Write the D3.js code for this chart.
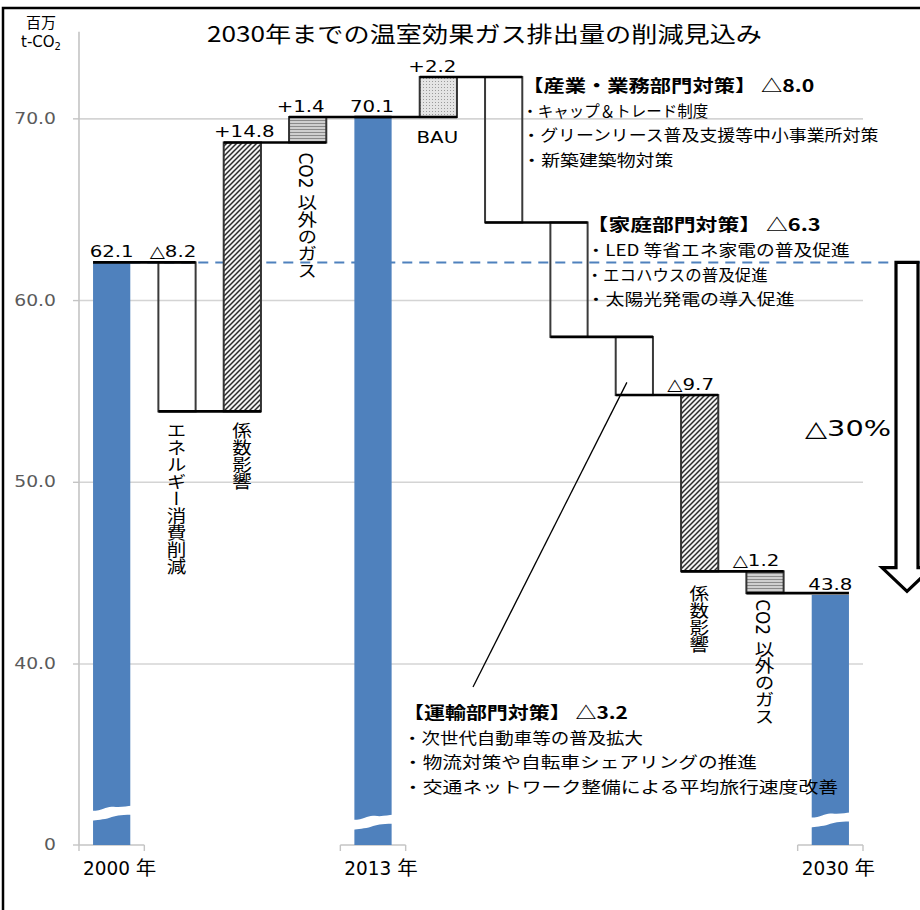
<!DOCTYPE html>
<html><head><meta charset="utf-8">
<script src="https://cdn.jsdelivr.net/npm/d3@7"></script>
<style>body{margin:0;background:#fff}svg{display:block}</style>
</head><body><svg id="chart" width="920" height="910"></svg>
<script>
// ---------- data ----------
const categories = ["2000年","エネルギー消費削減","係数影響","CO2 以外のガス","2013年","BAU","産業・業務部門対策","家庭部門対策","運輸部門対策","係数影響","CO2 以外のガス","2030年"];
const values = [62.1, -8.2, 14.8, 1.4, 70.1, 2.2, -8.0, -6.3, -3.2, -9.7, -1.2, 43.8];
const kinds = ["total","cut","coef","gas","total","bau","cut","cut","cut","coef","gas","total"];
const valueLabels = ["62.1","△8.2","+14.8","+1.4","70.1","+2.2","","","","△9.7","△1.2","43.8"];
const verticalLabels = ["","エネルギー消費削減","係数影響","CO2 以外のガス","","","","","","係数影響","CO2 以外のガス",""];
const yTicks = [0, 40, 50, 60, 70];
const yTickLabels = ["0","40.0","50.0","60.0","70.0"];
const xLabels = ["2000 年","2013 年","2030 年"];
const breakValues = [8, 6, 6.5];
const baseline2000 = 62.1;
const titleText = "2030年までの温室効果ガス排出量の削減見込み";
const industryHeader = "【産業・業務部門対策】 △8.0";
const industryItems = ["・キャップ＆トレード制度","・グリーンリース普及支援等中小事業所対策","・新築建築物対策"];
const householdHeader = "【家庭部門対策】 △6.3";
const householdItems = ["・LED 等省エネ家電の普及促進","・エコハウスの普及促進","・太陽光発電の導入促進"];
const transportHeader = "【運輸部門対策】 △3.2";
const transportItems = ["・次世代自動車等の普及拡大","・物流対策や自転車シェアリングの推進","・交通ネットワーク整備による平均旅行速度改善"];
const reductionText = "△30%";

// ---------- setup ----------
const svg = d3.select("#chart");
const LAT = "'DejaVu Sans','Noto Sans CJK JP',sans-serif";
const CJK = "'Noto Sans CJK JP','DejaVu Sans',sans-serif";
const BLUE = "#4F81BD";

const x = d3.scaleBand().domain(d3.range(categories.length)).range([79, 863]).paddingInner(0.43).paddingOuter(0.215);
const y = d3.scaleLinear().domain([0, 40, 75]).range([845, 664, 28]);
const bw = x.bandwidth();

// compute waterfall
let run = 0;
const bars = values.map((v, i) => {
  let s, e;
  if (kinds[i] === "total") { s = 0; e = v; }
  else { s = run; e = run + v; }
  run = e;
  return {i, v, kind: kinds[i], s, e, lo: Math.min(s, e), hi: Math.max(s, e)};
});

// patterns
const defs = svg.append("defs");
const ph = defs.append("pattern").attr("id","hatch").attr("patternUnits","userSpaceOnUse").attr("width",5).attr("height",5);
ph.append("rect").attr("width",5).attr("height",5).attr("fill","#f4f4f4");
ph.append("path").attr("d","M-1,1 l2,-2 M0,5 l5,-5 M4,6 l2,-2").attr("stroke","#2b2b2b").attr("stroke-width",1.5);
const pg = defs.append("pattern").attr("id","gas").attr("patternUnits","userSpaceOnUse").attr("width",4).attr("height",3);
pg.append("rect").attr("width",4).attr("height",3).attr("fill","#cfcfcf");
pg.append("line").attr("x1",0).attr("x2",4).attr("y1",0.5).attr("y2",0.5).attr("stroke","#8a8a8a").attr("stroke-width",1);
const pb = defs.append("pattern").attr("id","bau").attr("patternUnits","userSpaceOnUse").attr("width",3).attr("height",3);
pb.append("rect").attr("width",3).attr("height",3).attr("fill","#e4e4e4");
pb.append("rect").attr("x",0).attr("y",0).attr("width",1).attr("height",1).attr("fill","#9a9a9a");

// frame
svg.append("path").attr("d","M3,930 L3,8 L930,8").attr("fill","none").attr("stroke","#000").attr("stroke-width",2.5);

// title
svg.append("text").attr("x",207).attr("y",42).attr("font-family",CJK).attr("font-size",22)
  .attr("textLength",555).attr("lengthAdjust","spacingAndGlyphs").text(titleText);

// unit label
const ul = svg.append("g").attr("font-family",LAT).attr("font-size",15).attr("text-anchor","middle");
ul.append("text").attr("x",41).attr("y",28).attr("font-family",CJK).text("百万");
const ut = ul.append("text").attr("x",41).attr("y",47);
ut.append("tspan").text("t-CO");
ut.append("tspan").attr("font-size",10).attr("dy",3).text("2");

// gridlines
const gridG = svg.append("g");
gridG.selectAll("line").data(yTicks.filter(t => t > 0)).join("line")
  .attr("x1",79).attr("x2",863).attr("y1",d=>y(d)).attr("y2",d=>y(d))
  .attr("stroke","#d4d4d4").attr("stroke-width",1.6);

// y axis
svg.append("line").attr("x1",79).attr("x2",79).attr("y1",y(74.8)).attr("y2",y(0)).attr("stroke","#c4c4c4").attr("stroke-width",1.6);
const yt = svg.append("g");
yt.selectAll("line").data(yTicks).join("line").attr("x1",73).attr("x2",79).attr("y1",d=>y(d)).attr("y2",d=>y(d)).attr("stroke","#c4c4c4").attr("stroke-width",1.4);
yt.selectAll("text").data(yTicks).join("text")
  .attr("transform",d=>`translate(56,${y(d)+5}) scale(1.25,1)`)
  .attr("text-anchor","end").attr("font-family",LAT).attr("font-size",15).attr("fill","#5a5a5a")
  .text((d,i)=>yTickLabels[i]);

// bottom axis segments under total bars
const totals = bars.filter(b => b.kind === "total");
const bx = svg.append("g").attr("stroke","#c4c4c4").attr("stroke-width",1.4);
totals.forEach(b => {
  const l = x(b.i) - x.step()*0.215, r = x(b.i) + bw + x.step()*0.215;
  bx.append("line").attr("x1",l).attr("x2",r).attr("y1",y(0)).attr("y2",y(0));
  bx.append("line").attr("x1",l).attr("x2",l).attr("y1",y(0)).attr("y2",y(0)+6);
  bx.append("line").attr("x1",r).attr("x2",r).attr("y1",y(0)).attr("y2",y(0)+6);
});

// dashed 2000 level line
svg.append("line").attr("x1",x(0)+bw).attr("x2",920).attr("y1",y(baseline2000)).attr("y2",y(baseline2000))
  .attr("stroke",BLUE).attr("stroke-width",2).attr("stroke-dasharray","10,7");

// bars
const fillFor = k => k==="total" ? BLUE : k==="cut" ? "none" : k==="coef" ? "url(#hatch)" : k==="gas" ? "url(#gas)" : "url(#bau)";
svg.append("g").selectAll("rect").data(bars).join("rect")
  .attr("x",d=>x(d.i)).attr("width",bw)
  .attr("y",d=>y(d.hi)).attr("height",d=>y(d.lo)-y(d.hi))
  .attr("fill",d=>fillFor(d.kind))
  .attr("stroke",d=>d.kind==="total" ? "none" : (d.kind==="cut" ? "#3a3a3a" : "#333"))
  .attr("stroke-width",2);

// breaks on total bars
totals.forEach((b, k) => {
  const yb = y(breakValues[k]);
  const l = x(b.i) - 1, r = x(b.i) + bw + 1, w = r - l;
  const d = `M${l},${yb+2} C${l+w*0.3},${yb+2} ${l+w*0.35},${yb-3} ${l+w*0.55},${yb-2} S${r-4},${yb-3} ${r},${yb-3}
    L${r},${yb+6} C${r-w*0.3},${yb+6} ${r-w*0.4},${yb+7} ${l+w*0.45},${yb+9} S${l+4},${yb+11} ${l},${yb+12} Z`;
  svg.append("path").attr("d",d).attr("fill","#fff");
});

// connector lines
const conn = svg.append("g").attr("stroke","#000").attr("stroke-width",2.6);
bars.slice(0,-1).forEach(b => {
  conn.append("line").attr("x1",x(b.i)).attr("x2",x(b.i+1)+bw).attr("y1",y(b.e)).attr("y2",y(b.e));
});

// value labels
const labelDx = [0,-4,2,-7,-1,-6,0,0,0,-9,-9,0];
const lg = svg.append("g").attr("font-family",LAT).attr("font-size",16.5).attr("text-anchor","middle");
bars.forEach(b => {
  if (!valueLabels[b.i]) return;
  lg.append("text").attr("transform",`translate(${x(b.i)+bw/2+labelDx[b.i]},${y(b.hi)-5}) scale(1.2,1)`).text(valueLabels[b.i]);
});
lg.append("text").attr("transform",`translate(${x(5)+bw/2-1},${y(bars[5].lo)+26}) scale(1.2,1)`).text("BAU");

// vertical labels
const vg = svg.append("g").attr("font-family",LAT).attr("font-size",17);
bars.forEach(b => {
  if (!verticalLabels[b.i]) return;
  const off = b.kind==="gas" ? (b.v>0 ? 10 : 6) : (b.kind==="coef" && b.v<0 ? 14 : 11);
  vg.append("text").attr("transform",`translate(${x(b.i)+bw/2-2},${y(b.lo)+off}) scale(1.15,1)`)
    .attr("x",0).attr("y",0)
    .style("writing-mode","vertical-rl").text(verticalLabels[b.i]);
});

// annotation blocks
function block(x0, y0, header, hlen, items, ilens) {
  const g = svg.append("g").attr("font-family",CJK);
  g.append("text").attr("x",x0).attr("y",y0).attr("font-size",17).attr("font-weight","bold")
    .attr("textLength",hlen).attr("lengthAdjust","spacingAndGlyphs").text(header);
  items.forEach((t, k) => {
    g.append("text").attr("x",x0).attr("y",y0 + 24.6*(k+1)).attr("font-size",15.5)
      .attr("textLength",ilens[k]).attr("lengthAdjust","spacingAndGlyphs").text(t);
  });
}
block(x(6)+bw, y(bars[6].s)+15, industryHeader, 292, industryItems, [186,356,151]);
block(x(7)+bw-1, y(bars[7].s)+9, householdHeader, 234, householdItems, [263,181,208]);
block(403, 719, transportHeader, 225, transportItems, [240,354,435]);

// leader line
svg.append("line").attr("x1",x(8)+bw*0.3).attr("y1",y(55.5)).attr("x2",473).attr("y2",687)
  .attr("stroke","#000").attr("stroke-width",1.3);

// reduction arrow
const aTop = y(baseline2000), aTip = y(44.0), aHead = y(45.3);
const ac = 907;
svg.append("path")
  .attr("d",`M${ac-11},${aTop} L${ac+11},${aTop} L${ac+11},${aHead} L${ac+25},${aHead} L${ac},${aTip} L${ac-25},${aHead} L${ac-11},${aHead} Z`)
  .attr("fill","#fff").attr("stroke","#000").attr("stroke-width",3.2).attr("stroke-linejoin","miter");
svg.append("text").attr("x",891).attr("y",436).attr("text-anchor","end").attr("font-family",LAT).attr("font-size",22)
  .attr("textLength",86).attr("lengthAdjust","spacingAndGlyphs").text(reductionText);

// x labels
const xg = svg.append("g").attr("font-family","'DejaVu Sans Condensed','DejaVu Sans','Noto Sans CJK JP',sans-serif").attr("font-size",19).attr("text-anchor","middle");
totals.forEach((b, k) => {
  xg.append("text").attr("transform",`translate(${x(b.i)+bw/2+8},875) scale(1.08,1)`).text(xLabels[k]);
});
</script></body></html>
